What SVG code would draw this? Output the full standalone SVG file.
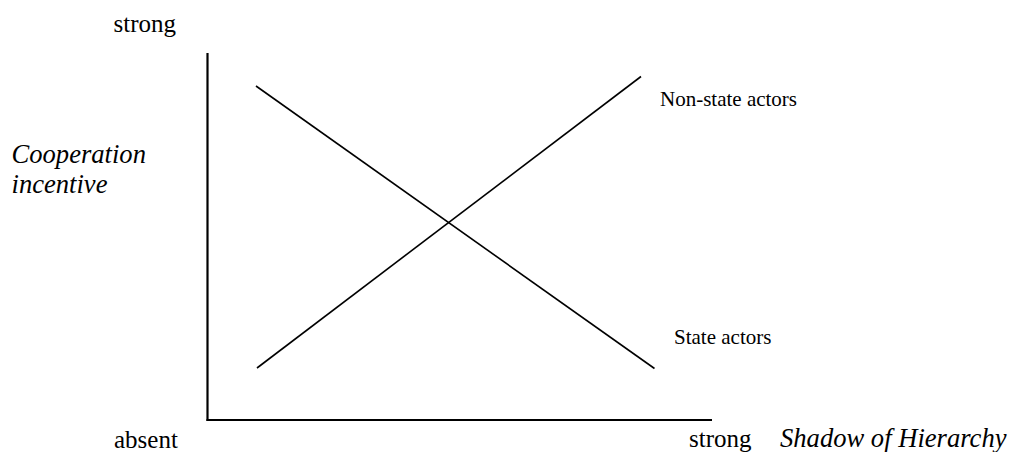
<svg xmlns="http://www.w3.org/2000/svg" width="1010" height="452" viewBox="0 0 1010 452">
<style>
text{font-family:"Liberation Serif","Times New Roman",serif;fill:#000}
.ax{font-size:25px}
.ti{font-size:26.6px;font-style:italic}
.lb{font-size:21px}
.ln{stroke:#000;fill:none}
</style>
<rect width="1010" height="452" fill="#fff"/>
<g id="axes">
<line class="ln" x1="207.5" y1="53" x2="207.5" y2="421" stroke-width="2.2"/>
<line class="ln" x1="206.5" y1="420" x2="712" y2="420" stroke-width="2.2"/>
</g>
<g id="labels">
<text class="ax" x="113.5" y="31.5">strong</text>
<text class="ti" x="11.5" y="162.5">Cooperation</text>
<text class="ti" x="11.5" y="193">incentive</text>
<text class="ax" x="114" y="447.5">absent</text>
<text class="ax" x="689" y="447">strong</text>
<text class="ti" x="780" y="447">Shadow of Hierarchy</text>
</g>
<g id="connectors">
<line class="ln" x1="256" y1="86" x2="654.5" y2="368.5" stroke-width="1.6"/>
<line class="ln" x1="257" y1="368" x2="641" y2="76.5" stroke-width="1.6"/>
</g>
<g id="non-state"><text class="lb" x="660" y="106">Non-state actors</text></g>
<g id="state"><text class="lb" x="674" y="344">State actors</text></g>
</svg>
